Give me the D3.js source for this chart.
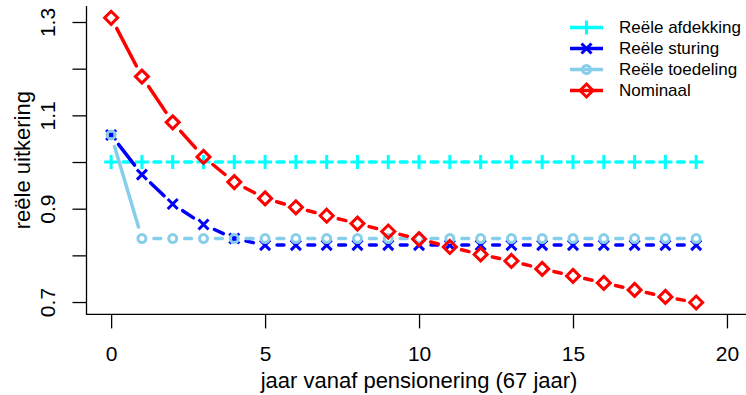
<!DOCTYPE html>
<html>
<head>
<meta charset="utf-8">
<script src="https://cdn.jsdelivr.net/npm/d3@7"></script>
<style>
  body { margin: 0; background: #fff; }
  svg { display: block; font-family: "Liberation Sans", Arial, sans-serif; }
</style>
</head>
<body>
<div class="viz"></div>
<script>
// jaren na pensionering
var years = d3.range(0, 20);

var afdekking = [1.0, 1.0, 1.0, 1.0, 1.0, 1.0, 1.0, 1.0, 1.0, 1.0,
                 1.0, 1.0, 1.0, 1.0, 1.0, 1.0, 1.0, 1.0, 1.0, 1.0];
var sturing = [1.058, 0.973, 0.910, 0.866, 0.836, 0.822, 0.822, 0.822, 0.822, 0.822,
               0.822, 0.822, 0.822, 0.822, 0.822, 0.822, 0.822, 0.822, 0.822, 0.822];
var toedeling = [1.058, 0.836, 0.836, 0.836, 0.836, 0.836, 0.836, 0.836, 0.836, 0.836,
                 0.836, 0.836, 0.836, 0.836, 0.836, 0.836, 0.836, 0.836, 0.836, 0.836];
var nominaal = [1.309, 1.183, 1.085, 1.011, 0.957, 0.922, 0.903, 0.885, 0.868, 0.851,
                0.835, 0.818, 0.802, 0.788, 0.771, 0.756, 0.741, 0.726, 0.711, 0.699];

var series_names = ["Reële afdekking", "Reële sturing", "Reële toedeling", "Nominaal"];
var x_ticks = [0, 5, 10, 15, 20];
var y_ticks = [0.7, 0.8, 0.9, 1.0, 1.1, 1.2, 1.3];
var y_labels = [0.7, 0.9, 1.1, 1.3];

var width = 746, height = 395;
var margin = { top: 5.9, bottom: 80.6, left: 86.5, right: -5.6 };

var svg = d3.select('.viz').append('svg')
    .attr('width', width)
    .attr('height', height);

var x = d3.scaleLinear()
    .domain([-0.8, 20.8])
    .range([margin.left, width - margin.right]);
var y = d3.scaleLinear()
    .domain([0.6735, 1.3345])
    .range([height - margin.bottom, margin.top]);

var series = [
    { name: series_names[0], values: afdekking, color: "#00FFFF", shape: "plus" },
    { name: series_names[1], values: sturing, color: "#0000FF", shape: "cross" },
    { name: series_names[2], values: toedeling, color: "#87CEEB", shape: "circle" },
    { name: series_names[3], values: nominaal, color: "#FF0000", shape: "diamond" }
];

var lw = 3.5;
var gap = 12;

function marker(g, shape, color) {
    if (shape == "circle") {
        g.append('circle').attr('r', 4).attr('fill', 'none')
            .attr('stroke', color).attr('stroke-width', 3);
    } else {
        var d = {
            plus: "M-7,0H7M0,-7V7",
            cross: "M-5,-5L5,5M-5,5L5,-5",
            diamond: "M0,-6.5L6.5,0L0,6.5L-6.5,0Z"
        }[shape];
        g.append('path').attr('d', d).attr('fill', 'none')
            .attr('stroke', color).attr('stroke-width', 3)
            .attr('stroke-linejoin', 'miter');
    }
}

// box (bty = "l")
svg.append('path')
    .attr('d', `M${x.range()[0]},${y.range()[1]}V${y.range()[0]}H${x.range()[1]}`)
    .attr('fill', 'none').attr('stroke', '#000').attr('stroke-width', 1.3);

// series: type "b" -> segments met gaten rond de punten
series.forEach(function(s) {
    var pts = years.map((yr, i) => [x(yr), y(s.values[i])]);
    var segs = [];
    for (var i = 0; i < pts.length - 1; i++) {
        var dx = pts[i+1][0] - pts[i][0], dy = pts[i+1][1] - pts[i][1];
        var len = Math.sqrt(dx*dx + dy*dy);
        if (len > 2 * gap) {
            var ux = dx / len, uy = dy / len;
            segs.push([pts[i][0] + ux*gap, pts[i][1] + uy*gap,
                       pts[i+1][0] - ux*gap, pts[i+1][1] - uy*gap]);
        }
    }
    svg.append('g').selectAll('line')
        .data(segs)
        .enter()
        .append('line')
        .attr('x1', d => d[0]).attr('y1', d => d[1])
        .attr('x2', d => d[2]).attr('y2', d => d[3])
        .attr('stroke', s.color)
        .attr('stroke-width', lw)
        .attr('stroke-linecap', 'round');

    svg.append('g').selectAll('g')
        .data(pts)
        .enter()
        .append('g')
        .attr('transform', d => `translate(${d[0]},${d[1]})`)
        .each(function() { marker(d3.select(this), s.shape, s.color); });
});

// x axis
var x_axis = svg.append('g')
    .attr('transform', `translate(0, ${y.range()[0]})`)
    .call(d3.axisBottom(x).tickValues(x_ticks).tickSize(14).tickSizeOuter(0).tickPadding(18));
x_axis.select('.domain').remove();
x_axis.selectAll('line').attr('stroke-width', 1.3);
x_axis.selectAll('text').attr('font-size', '21px').attr('font-family', null);

// y axis
var y_axis = svg.append('g')
    .attr('transform', `translate(${x.range()[0]}, 0)`)
    .call(d3.axisLeft(y).tickValues(y_ticks).tickSize(14).tickSizeOuter(0)
        .tickFormat(d => y_labels.some(v => Math.abs(v - d) < 1e-9) ? d3.format('.1f')(d) : ''));
y_axis.select('.domain').remove();
y_axis.selectAll('line').attr('stroke-width', 1.3);
y_axis.selectAll('text')
    .attr('font-size', '21px').attr('font-family', null)
    .attr('transform', 'rotate(-90)')
    .attr('x', 0).attr('y', -31.5).attr('dy', null)
    .style('text-anchor', 'middle');

// axis titles
svg.append('text')
    .attr('x', (x(-0.8) + x(20.8)) / 2)
    .attr('y', 388)
    .attr('text-anchor', 'middle')
    .attr('font-size', '22px')
    .text("jaar vanaf pensionering (67 jaar)");

svg.append('text')
    .attr('transform', `translate(30, ${(y.range()[0] + y.range()[1]) / 2}) rotate(-90)`)
    .attr('text-anchor', 'middle')
    .attr('font-size', '22px')
    .text("reële uitkering");

// legend
var legend = svg.append('g').selectAll('g')
    .data(series)
    .enter()
    .append('g')
    .attr('transform', (d, i) => `translate(570, ${27.5 + i * 21})`);

legend.append('line')
    .attr('x1', 0).attr('x2', 33)
    .attr('stroke', d => d.color)
    .attr('stroke-width', lw);
legend.append('g')
    .attr('transform', 'translate(16.5,0)')
    .each(function(d) { marker(d3.select(this), d.shape, d.color); });
legend.append('text')
    .attr('x', 49)
    .attr('dy', '0.35em')
    .attr('font-size', '17px')
    .text(d => d.name);
</script>
</body>
</html>
